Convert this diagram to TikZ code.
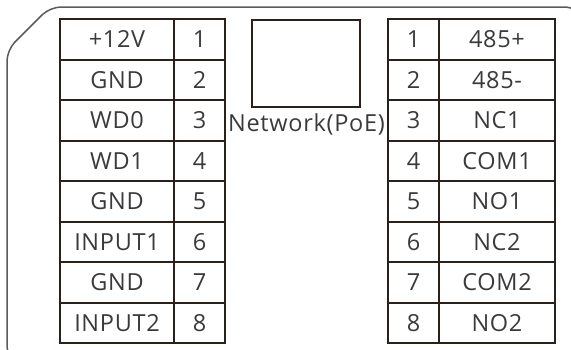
\documentclass[tikz,border=0pt]{standalone}
\usepackage{fontspec}
\setmainfont[LetterSpace=3]{Open Sans}
\usepackage{tikz}

\definecolor{pinline}{HTML}{2B211C}
\definecolor{pintext}{HTML}{3A3A3A}
\definecolor{caseline}{HTML}{5A5A5A}

\begin{document}
\begin{tikzpicture}[x=1pt, y=-1pt,
    cell/.style={rectangle, draw=pinline, line width=2pt, inner sep=0pt, outer sep=0pt,
      minimum height=40.5pt, text=pintext, font=\fontsize{23.5}{26}\selectfont},
    namecell/.style={cell, minimum width=114pt},
    pincell/.style={cell, minimum width=51pt},
    sigcell/.style={cell, minimum width=116pt}]
    \useasboundingbox (0, 0) rectangle (571, 349);
    \clip (0, 0) rectangle (571, 349);

    % case outline
    \draw [caseline, line width=1.5pt, rounded corners=11pt]
      (30, 358) -- (7, 358) -- (7, 50) -- (50, 7) -- (577, 7) -- (577, 40);

    % left connector
    \node (L1) [namecell] at (117, 39.25) {+12V};
    \node (L2) [namecell] at (117, 79.75) {GND};
    \node (L3) [namecell] at (117, 120.25) {WD0};
    \node (L4) [namecell] at (117, 160.75) {WD1};
    \node (L5) [namecell] at (117, 201.25) {GND};
    \node (L6) [namecell] at (117, 241.75) {INPUT1};
    \node (L7) [namecell] at (117, 282.25) {GND};
    \node (L8) [namecell] at (117, 322.75) {INPUT2};
    \node (P1) [pincell] at (199.5, 39.25) {1};
    \node (P2) [pincell] at (199.5, 79.75) {2};
    \node (P3) [pincell] at (199.5, 120.25) {3};
    \node (P4) [pincell] at (199.5, 160.75) {4};
    \node (P5) [pincell] at (199.5, 201.25) {5};
    \node (P6) [pincell] at (199.5, 241.75) {6};
    \node (P7) [pincell] at (199.5, 282.25) {7};
    \node (P8) [pincell] at (199.5, 322.75) {8};

    % network port
    \node (net) [rectangle, draw=pinline, line width=2pt, minimum width=108pt, minimum height=87pt] at (306, 63.5) {};
    \node (netlabel) [text=pintext, font=\fontsize{23.5}{26}\selectfont, inner sep=0pt] at (306.5, 124) {Network(PoE)};

    % right connector
    \node (Q1) [pincell] at (413.5, 39.25) {1};
    \node (Q2) [pincell] at (413.5, 79.75) {2};
    \node (Q3) [pincell] at (413.5, 120.25) {3};
    \node (Q4) [pincell] at (413.5, 160.75) {4};
    \node (Q5) [pincell] at (413.5, 201.25) {5};
    \node (Q6) [pincell] at (413.5, 241.75) {6};
    \node (Q7) [pincell] at (413.5, 282.25) {7};
    \node (Q8) [pincell] at (413.5, 322.75) {8};
    \node (R1) [sigcell] at (497, 39.25) {485+};
    \node (R2) [sigcell] at (497, 79.75) {485-};
    \node (R3) [sigcell] at (497, 120.25) {NC1};
    \node (R4) [sigcell] at (497, 160.75) {COM1};
    \node (R5) [sigcell] at (497, 201.25) {NO1};
    \node (R6) [sigcell] at (497, 241.75) {NC2};
    \node (R7) [sigcell] at (497, 282.25) {COM2};
    \node (R8) [sigcell] at (497, 322.75) {NO2};
\end{tikzpicture}
\end{document}
